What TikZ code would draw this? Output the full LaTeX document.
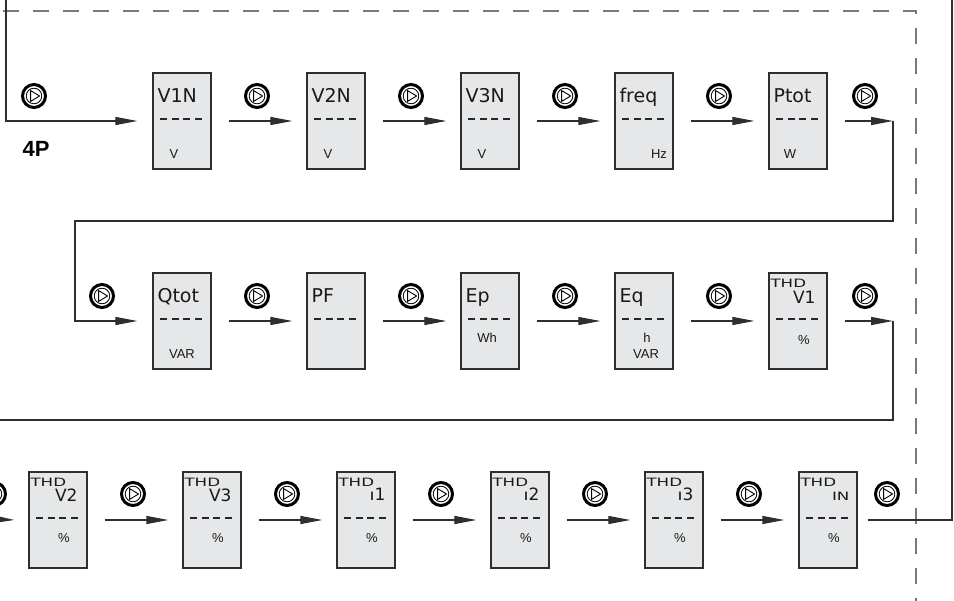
\documentclass[tikz,border=0pt]{standalone}
\usepackage{fontspec}
\setmainfont{Liberation Sans}
\newfontfamily\lcdfont{DejaVu Sans}
\newfontfamily\thdfont[FakeStretch=1.45]{DejaVu Sans}
\usetikzlibrary{arrows.meta, positioning, calc}
\definecolor{boxfill}{HTML}{E6E7E8}
\definecolor{linegray}{HTML}{2E2E2E}
\definecolor{dashgray}{HTML}{7A7A7A}
\tikzset{
  dispbox/.style={
    draw=linegray, line width=1.3pt, fill=boxfill, inner sep=0pt,
    minimum width=58pt, minimum height=96pt,
    path picture={\draw[segdash] ([xshift=7pt,yshift=2pt]path picture bounding box.west) -- ([xshift=-9pt,yshift=2pt]path picture bounding box.east);}
  },
  segdash/.style={line width=2.4pt, black!85, dash pattern=on 7pt off 4.67pt},
  flowarrow/.style={-{Triangle[length=22pt, width=8pt]}, line width=1.2pt, draw=linegray},
  loopline/.style={line width=1.2pt, draw=linegray},
  rangeline/.style={draw=dashgray, line width=1.5pt, dash pattern=on 16pt off 14pt},
  toplabel/.style={font=\lcdfont\fontsize{19}{19}\selectfont, anchor=base west, inner sep=0pt, text=black!90},
  sublabel/.style={font=\lcdfont\fontsize{17}{17}\selectfont, anchor=base east, inner sep=0pt, text=black!90},
  thdlabel/.style={font=\thdfont\fontsize{11.5}{11.5}\selectfont, inner sep=0pt, text=black!90},
  unitlabel/.style={font=\fontsize{13}{13}\selectfont, inner sep=0pt, text=black!90},
  modelabel/.style={font=\bfseries\fontsize{22}{22}\selectfont, inner sep=0pt},
  playbtn/.pic={
    \draw[line width=3pt] (0,0) circle (11.5pt);
    \draw[line width=0.8pt] (0,0) circle (7.8pt);
    \draw[line width=0.9pt, line join=round] (-3.4,-5.4) -- (5.6,0) -- (-3.4,5.4) -- cycle;
  },
}
\begin{document}
\begin{tikzpicture}[x=1pt, y=-1pt]
  \useasboundingbox (0,0) rectangle (954,601);

  % Range of the 4P menu
  \draw[rangeline] (3,11) -| (916,601);

  % First row
  \node[dispbox] (v1n) at (182,121) {};
  \node[dispbox] (v2n) at (336,121) {};
  \node[dispbox] (v3n) at (490,121) {};
  \node[dispbox] (freq) at (644,121) {};
  \node[dispbox] (ptot) at (798,121) {};

  \node[toplabel] at ([shift={(5,30)}]v1n.north west) {V1N};
  \node[toplabel] at ([shift={(5,30)}]v2n.north west) {V2N};
  \node[toplabel] at ([shift={(5,30)}]v3n.north west) {V3N};
  \node[toplabel] at ([shift={(5,30)}]freq.north west) {freq};
  \node[toplabel] at ([shift={(5,30)}]ptot.north west) {Ptot};

  \node[unitlabel] at ($(v1n)+(-8,33)$) {V};
  \node[unitlabel] at ($(v2n)+(-8,33)$) {V};
  \node[unitlabel] at ($(v3n)+(-8,33)$) {V};
  \node[unitlabel] at ($(freq)+(15,33)$) {Hz};
  \node[unitlabel] at ($(ptot)+(-8,33)$) {W};

  % Second row
  \node[dispbox] (qtot) at (182,321) {};
  \node[dispbox] (pf) at (336,321) {};
  \node[dispbox] (ep) at (490,321) {};
  \node[dispbox] (eq) at (644,321) {};
  \node[dispbox] (thdv1) at (798,321) {};

  \node[toplabel] at ([shift={(5,30)}]qtot.north west) {Qtot};
  \node[toplabel] at ([shift={(5,30)}]pf.north west) {PF};
  \node[toplabel] at ([shift={(5,30)}]ep.north west) {Ep};
  \node[toplabel] at ([shift={(5,30)}]eq.north west) {Eq};
  \node[thdlabel, anchor=north west] at ([shift={(2,7)}]thdv1.north west) {THD};
  \node[sublabel] at ([shift={(-12,31)}]thdv1.north east) {V1};

  \node[unitlabel] at ($(qtot)+(0,33)$) {VAR};
  \node[unitlabel] at ($(ep)+(-3,17)$) {Wh};
  \node[unitlabel] at ($(eq)+(3,17)$) {h};
  \node[unitlabel] at ($(eq)+(2,33)$) {VAR};
  \node[unitlabel] at ($(thdv1)+(6,19)$) {\%};

  % Third row
  \node[dispbox] (thdv2) at (58,520) {};
  \node[dispbox] (thdv3) at (212,520) {};
  \node[dispbox] (thdi1) at (366,520) {};
  \node[dispbox] (thdi2) at (520,520) {};
  \node[dispbox] (thdi3) at (674,520) {};
  \node[dispbox] (thdin) at (828,520) {};

  \node[thdlabel, anchor=north west] at ([shift={(2,7)}]thdv2.north west) {THD};
  \node[thdlabel, anchor=north west] at ([shift={(2,7)}]thdv3.north west) {THD};
  \node[thdlabel, anchor=north west] at ([shift={(2,7)}]thdi1.north west) {THD};
  \node[thdlabel, anchor=north west] at ([shift={(2,7)}]thdi2.north west) {THD};
  \node[thdlabel, anchor=north west] at ([shift={(2,7)}]thdi3.north west) {THD};
  \node[thdlabel, anchor=north west] at ([shift={(2,7)}]thdin.north west) {THD};
  \node[sublabel] at ([shift={(-10,30)}]thdv2.north east) {V2};
  \node[sublabel] at ([shift={(-10,30)}]thdv3.north east) {V3};
  \node[sublabel] at ([shift={(-10,29.5)}]thdi1.north east) {{\thdfont\fontsize{11.5}{11.5}\selectfont I}1};
  \node[sublabel] at ([shift={(-10,29.5)}]thdi2.north east) {{\thdfont\fontsize{11.5}{11.5}\selectfont I}2};
  \node[sublabel] at ([shift={(-10,29.5)}]thdi3.north east) {{\thdfont\fontsize{11.5}{11.5}\selectfont I}3};
  \node[sublabel, font=\thdfont\fontsize{11.5}{11.5}\selectfont] at ([shift={(-8,29.5)}]thdin.north east) {IN};

  \node[unitlabel] at ($(thdv2)+(6,18)$) {\%};
  \node[unitlabel] at ($(thdv3)+(6,18)$) {\%};
  \node[unitlabel] at ($(thdi1)+(6,18)$) {\%};
  \node[unitlabel] at ($(thdi2)+(6,18)$) {\%};
  \node[unitlabel] at ($(thdi3)+(6,18)$) {\%};
  \node[unitlabel] at ($(thdin)+(6,18)$) {\%};

  \node[modelabel] (mode) at (36,149) {4P};

  % Turning points
  \coordinate (entry) at (6,0);
  \coordinate (turnA) at (893,121);
  \coordinate (turnB) at (75,221);
  \coordinate (turnC) at (893,321);
  \coordinate (leftout) at (0,420);
  \coordinate (leftin) at (-10,519);
  \coordinate (rightup) at (952,0);

  % Arrows
  \draw[flowarrow] (entry) |- ([xshift=-15pt]v1n.west);
  \draw[flowarrow] ([xshift=17pt]v1n.east) -- ([xshift=-14pt]v2n.west);
  \draw[flowarrow] ([xshift=17pt]v2n.east) -- ([xshift=-14pt]v3n.west);
  \draw[flowarrow] ([xshift=17pt]v3n.east) -- ([xshift=-14pt]freq.west);
  \draw[flowarrow] ([xshift=17pt]freq.east) -- ([xshift=-14pt]ptot.west);
  \draw[flowarrow] ([xshift=17pt]ptot.east) -- (turnA);
  \draw[flowarrow] (turnA) |- (turnB) |- ([xshift=-15pt]qtot.west);
  \draw[flowarrow] ([xshift=17pt]qtot.east) -- ([xshift=-14pt]pf.west);
  \draw[flowarrow] ([xshift=17pt]pf.east) -- ([xshift=-14pt]ep.west);
  \draw[flowarrow] ([xshift=17pt]ep.east) -- ([xshift=-14pt]eq.west);
  \draw[flowarrow] ([xshift=17pt]eq.east) -- ([xshift=-14pt]thdv1.west);
  \draw[flowarrow] ([xshift=17pt]thdv1.east) -- (turnC);
  \draw[loopline] (turnC) |- (leftout);
  \draw[flowarrow] (leftin) -- ([xshift=-14pt]thdv2.west);
  \draw[flowarrow] ([xshift=17pt]thdv2.east) -- ([xshift=-14pt]thdv3.west);
  \draw[flowarrow] ([xshift=17pt]thdv3.east) -- ([xshift=-14pt]thdi1.west);
  \draw[flowarrow] ([xshift=17pt]thdi1.east) -- ([xshift=-14pt]thdi2.west);
  \draw[flowarrow] ([xshift=17pt]thdi2.east) -- ([xshift=-14pt]thdi3.west);
  \draw[flowarrow] ([xshift=17pt]thdi3.east) -- ([xshift=-14pt]thdin.west);
  \draw[loopline] ([xshift=10pt]thdin.east) -| (rightup);

  % Push buttons
  \pic at (34,96) {playbtn};
  \pic at (257,96) {playbtn};
  \pic at (411,96) {playbtn};
  \pic at (565,96) {playbtn};
  \pic at (719,96) {playbtn};
  \pic at (865,96) {playbtn};
  \pic at (102,296) {playbtn};
  \pic at (257,296) {playbtn};
  \pic at (411,296) {playbtn};
  \pic at (565,296) {playbtn};
  \pic at (719,296) {playbtn};
  \pic at (865,296) {playbtn};
  \pic at (-6,494) {playbtn};
  \pic at (133,494) {playbtn};
  \pic at (287,494) {playbtn};
  \pic at (441,494) {playbtn};
  \pic at (595,494) {playbtn};
  \pic at (749,494) {playbtn};
  \pic at (887,494) {playbtn};
\end{tikzpicture}
\end{document}
